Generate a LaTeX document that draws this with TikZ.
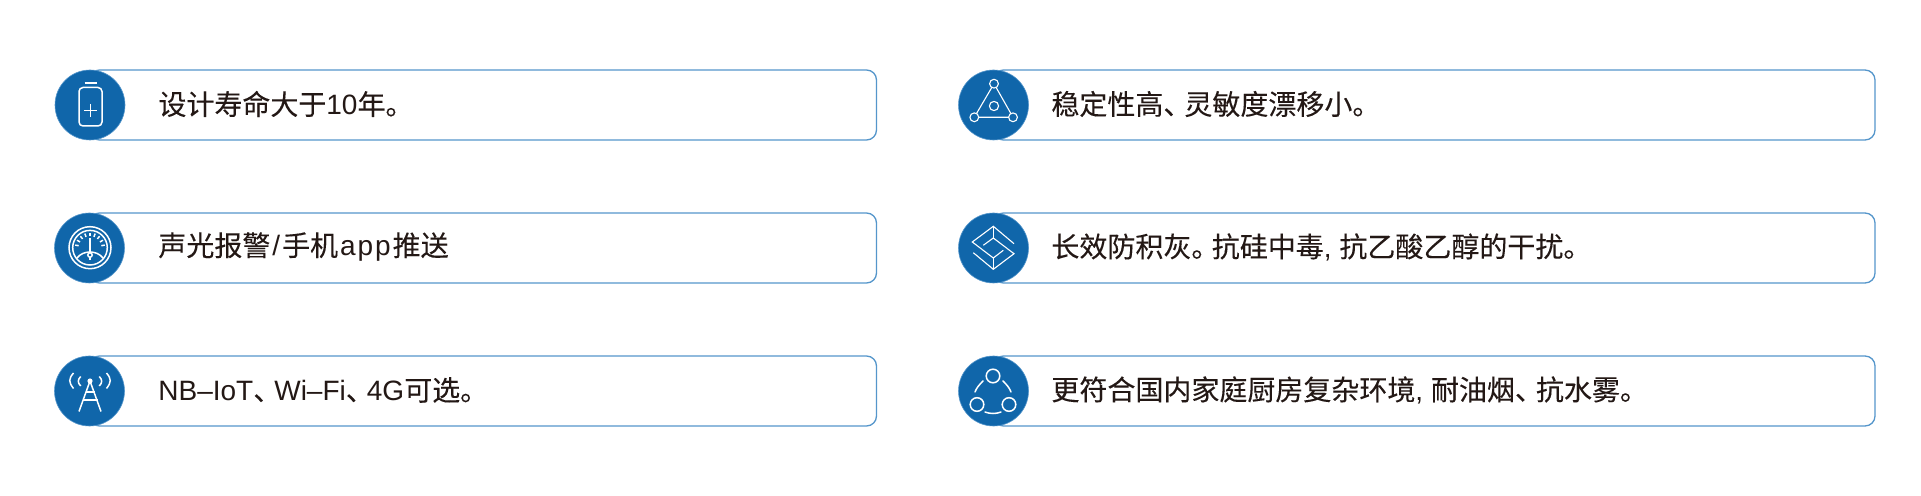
\documentclass[tikz,border=0pt]{standalone}
\usepackage{fontspec}
\setmainfont{Liberation Sans}
\newfontfamily\cjk[FakeBold=0.12]{Noto Sans CJK SC}
\usetikzlibrary{positioning}
\definecolor{boxline}{HTML}{5596CB}
\definecolor{badge}{HTML}{1066AA}
\definecolor{ink}{HTML}{231815}
\newcommand{\dun}{{\cjk 、}\kern-0.25em}
\newcommand{\juhao}{{\cjk 。}\kern-0.27em}
\begin{document}
\begin{tikzpicture}[x=0.5pt,y=-0.5pt,
    itembox/.style={draw=boxline,line width=0.65pt,rounded corners=5pt,fill=white,minimum height=35pt,inner sep=0pt,outer sep=0pt},
    badgedot/.style={circle,fill=badge,draw=boxline,line width=0.3pt,minimum size=35pt,inner sep=0pt,outer sep=0pt},
    itemtext/.style={anchor=west,inner sep=0pt,text=ink,font=\fontsize{14pt}{16pt}\selectfont},
    icon/.style={white,line width=0.75pt},
    ring/.style={circle,draw=white,line width=0.75pt,inner sep=0pt,outer sep=0pt}]

    \useasboundingbox (0,0) rectangle (1921,496);

    % left column
    \node[itembox,minimum width=393.5pt] (boxa) at (483,105) {};
    \node[itembox,minimum width=393.5pt] (boxb) at (483,248) {};
    \node[itembox,minimum width=393.5pt] (boxc) at (483,391) {};
    \node[badgedot] (dota) at (90,105) {};
    \node[badgedot] (dotb) at (89.5,248) {};
    \node[badgedot] (dotc) at (89.5,391) {};
    \node[itemtext] (texta) at (158,104) {\cjk 设计寿命大于{\rmfamily 10}年。};
    \node[itemtext] (textb) at (158,247) {{\cjk 声光报警}\kern.07em/\kern.07em{\cjk 手机}\kern.07em a\kern.07em p\kern.07em p\kern.07em{\cjk 推送}};
    \node[itemtext] (textc) at (158,390) {NB–IoT\dun Wi–Fi\dun 4G{\cjk 可选。}};

    % right column
    \node[itembox,minimum width=440.75pt] (boxd) at (1434.25,105) {};
    \node[itembox,minimum width=440.75pt] (boxe) at (1434.25,248) {};
    \node[itembox,minimum width=440.75pt] (boxf) at (1434.25,391) {};
    \node[badgedot] (dotd) at (993.5,105) {};
    \node[badgedot] (dote) at (993.5,248) {};
    \node[badgedot] (dotf) at (993.5,391) {};
    \node[itemtext] (textd) at (1051,104) {{\cjk 稳定性高}\dun{\cjk 灵敏度漂移小。}};
    \node[itemtext] (texte) at (1051,247) {{\cjk 长效防积灰}\juhao{\cjk 抗硅中毒}, {\cjk 抗乙酸乙醇的干扰。}};
    \node[itemtext] (textf) at (1051,390) {{\cjk 更符合国内家庭厨房复杂环境}, {\cjk 耐油烟}\dun{\cjk 抗水雾。}};

    % battery
    \draw[icon,rounded corners=2pt] (79,87.5) rectangle (102,126);
    \draw[icon] (84.5,83) -- (96.5,83);
    \draw[icon] (84,110.7) -- (97.4,110.7);
    \draw[icon] (90.7,104) -- (90.7,117.4);

    % gauge
    \draw[icon] (90,247.7) circle[radius=21];
    \draw[icon] (90,247.7) circle[radius=17.3];
    \foreach \a in {-170,-150,...,-10} {
        \draw[icon] (90,247.7) ++(\a:11.5) -- ++(\a:3.5);
    }
    \draw[icon] (90,238) -- (90,252);
    \draw[icon] (77,258) .. controls (83,250) and (97,250) .. (103,258);
    \node[ring,minimum size=2.2pt] (hub) at (90,255) {};
    \draw[icon] (hub) -- ++(0,5);

    % antenna
    \fill[white] (90,381) circle[radius=2.6];
    \draw[icon] (79,411.5) -- (90,381) -- (101,411.5);
    \draw[icon] (85.5,392) -- (94.5,392);
    \draw[icon] (82.5,400) -- (97.5,400);
    \draw[icon] (80.7,376.5) .. controls (77.5,380) and (77.5,382.5) .. (80.7,386);
    \draw[icon] (99.3,376.5) .. controls (102.5,380) and (102.5,382.5) .. (99.3,386);
    \draw[icon] (73.5,373) .. controls (68.5,379) and (68.5,382) .. (73.5,388.5);
    \draw[icon] (106.5,373) .. controls (111.5,379) and (111.5,382) .. (106.5,388.5);

    % triangle
    \node[ring,line width=0.55pt,minimum size=4.4pt] (tritop) at (994,83.7) {};
    \node[ring,line width=0.55pt,minimum size=4.4pt] (trileft) at (974.3,117.3) {};
    \node[ring,line width=0.55pt,minimum size=4.4pt] (triright) at (1013,117.3) {};
    \node[ring,line width=0.55pt,minimum size=4.6pt] (trimid) at (994,106) {};
    \draw[icon,line width=0.55pt] (tritop) -- (trileft) -- (triright) -- (tritop);

    % layers
    \draw[icon,line width=0.55pt] (1014,243.7) -- (993.3,226.3) -- (972.3,242) -- (993.3,258) -- (1003.3,250.3);
    \draw[icon,line width=0.55pt] (983.3,245.3) -- (993.3,238) -- (1014,253.7) -- (993.3,269.3) -- (973.3,252.7);
    \draw[icon,line width=0.55pt] (993.3,226.3) -- (993.3,238);
    \draw[icon,line width=0.55pt] (993.3,258) -- (993.3,269.3);

    % three rings
    \node[ring,minimum size=6.8pt] (ringtop) at (993,376) {};
    \node[ring,minimum size=6.8pt] (ringleft) at (977,404.5) {};
    \node[ring,minimum size=6.8pt] (ringright) at (1009,404.5) {};
    \draw[icon,line cap=round] (975,392) .. controls (976.5,388) and (979,385) .. (983,381);
    \draw[icon,line cap=round] (1003,381) .. controls (1007,385) and (1009.5,388) .. (1011,392);
    \draw[icon,line cap=round] (985,412) .. controls (990,414) and (996,414) .. (1001,412);
\end{tikzpicture}
\end{document}
